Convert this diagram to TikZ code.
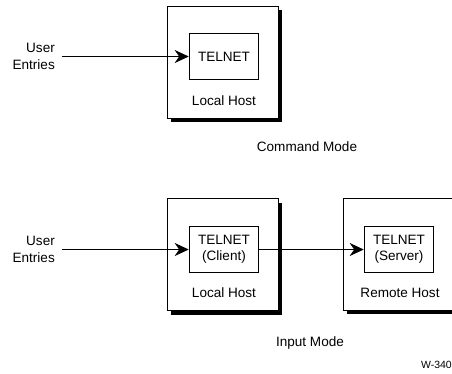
\documentclass[tikz,border=0pt]{standalone}
\usepackage{fontspec}
\setmainfont{Liberation Sans}
\usetikzlibrary{arrows.meta,shadows}

\begin{document}
\begin{tikzpicture}[x=1bp,y=-1bp]
     % Define styles
     \tikzstyle{host} = [draw, line width=0.8bp, fill=white, minimum width=111bp, minimum height=112bp,
                         drop shadow={shadow xshift=4bp, shadow yshift=-4bp, fill=black, opacity=1}]
     \tikzstyle{prog} = [draw, line width=1.6bp, fill=white, minimum width=69bp, minimum height=46bp, align=center]
     \tikzstyle{txt} = [inner sep=0pt, font=\fontsize{13.6}{16.5}\selectfont]
     \tikzstyle{flow} = [line width=0.8bp, -{Stealth[length=14bp,width=13bp,inset=4.5bp]}]

     \useasboundingbox (0,0) rectangle (452,373);

     % Command mode
     \node[host] (local1) at (222.5,62) {};
     \node[prog, txt, inner sep=2pt] (telnet1) at (224,56.5) {TELNET};
     \node[txt] (lhost1) at (224,101) {Local Host};
     \node[txt, align=right, anchor=east] (user1) at (55,56.5) {User\\Entries};
     \draw[flow] ([xshift=7bp]user1.east) -- (telnet1.west);
     \node[txt] (cmode) at (307,147) {Command Mode};

     % Input mode
     \node[host] (local2) at (222.5,254.5) {};
     \node[host] (remote2) at (398.5,254) {};
     \node[prog, txt, inner sep=2pt] (telnet2) at (224,249.5) {TELNET\\(Client)};
     \node[prog, txt, inner sep=2pt] (telnet3) at (399,249.5) {TELNET\\(Server)};
     \node[txt] (lhost2) at (224,293) {Local Host};
     \node[txt] (rhost2) at (400,293) {Remote Host};
     \node[txt, align=right, anchor=east] (user2) at (55,249.5) {User\\Entries};
     \draw[flow] ([xshift=7bp]user2.east) -- (telnet2.west);
     \draw[flow] (telnet2.east) -- (telnet3.west);
     \node[txt] (imode) at (310,343) {Input Mode};

     % Figure tag
     \node[inner sep=0pt, font=\fontsize{10.5}{12}\selectfont, anchor=east] (tag) at (452,365) {W-340};
\end{tikzpicture}
\end{document}
